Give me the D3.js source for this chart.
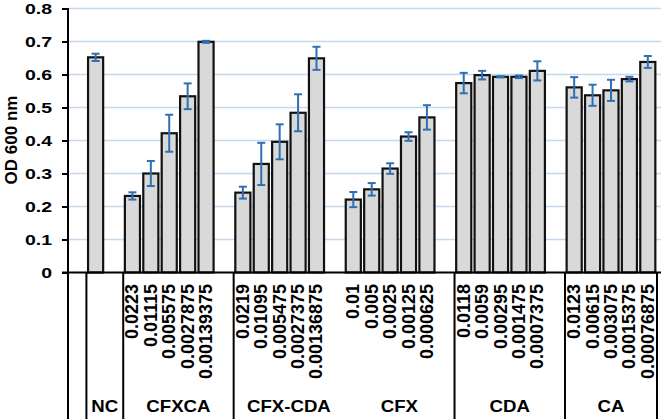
<!DOCTYPE html>
<html>
<head>
<meta charset="utf-8">
<script src="https://cdn.jsdelivr.net/npm/d3@7"></script>
<style>
body { margin: 0; background: #fff; }
text { font-family: "Liberation Sans", Arial, sans-serif; font-weight: bold; fill: #000; }
</style>
</head>
<body>
<div id="chart"></div>
<script>
// groups and their concentrations (tick labels)
var groups = ["NC", "CFXCA", "CFX-CDA", "CFX", "CDA", "CA"];
var concNC = [""];
var concCFXCA = ["0.0223", "0.01115", "0.005575", "0.0027875", "0.00139375"];
var concCFXCDA = ["0.0219", "0.01095", "0.005475", "0.0027375", "0.00136875"];
var concCFX = ["0.01", "0.005", "0.0025", "0.00125", "0.000625"];
var concCDA = ["0.0118", "0.0059", "0.00295", "0.001475", "0.0007375"];
var concCA = ["0.0123", "0.00615", "0.003075", "0.0015375", "0.00076875"];

// OD 600 means
var odNC = [0.652];
var odCFXCA = [0.232, 0.300, 0.422, 0.534, 0.699];
var odCFXCDA = [0.242, 0.329, 0.396, 0.484, 0.649];
var odCFX = [0.221, 0.252, 0.315, 0.412, 0.470];
var odCDA = [0.574, 0.598, 0.593, 0.593, 0.611];
var odCA = [0.561, 0.537, 0.552, 0.586, 0.638];

// error (+/-)
var errNC = [0.011];
var errCFXCA = [0.011, 0.038, 0.056, 0.039, 0.003];
var errCFXCDA = [0.018, 0.064, 0.053, 0.056, 0.035];
var errCFX = [0.023, 0.019, 0.016, 0.013, 0.037];
var errCDA = [0.031, 0.013, 0.002, 0.004, 0.029];
var errCA = [0.031, 0.032, 0.032, 0.007, 0.018];

var yTicks = [0, 0.1, 0.2, 0.3, 0.4, 0.5, 0.6, 0.7, 0.8];
// groups that get a divider line below the axis (CFX has none in the original)
var dividers = ["NC", "CFXCA", "CFX-CDA", "CDA", "CA"];

var conc = [concNC, concCFXCA, concCFXCDA, concCFX, concCDA, concCA];
var od = [odNC, odCFXCA, odCFXCDA, odCFX, odCDA, odCA];
var err = [errNC, errCFXCA, errCFXCDA, errCFX, errCDA, errCA];

var width = 661, height = 419;

// build bar list + slot domain (empty slot before NC and between groups)
var bars = [];
var slots = ["pad"];
groups.forEach(function(g, gi) {
  if (gi > 0) slots.push("gap" + gi);
  conc[gi].forEach(function(c, i) {
    var key = g + "|" + i;
    slots.push(key);
    bars.push({group: g, key: key, label: c, v: od[gi][i], e: err[gi][i]});
  });
});

var svg = d3.select("#chart").append("svg")
  .attr("width", width).attr("height", height);

var x = d3.scaleBand().domain(slots).range([68, 657])
  .paddingInner(0.18).paddingOuter(0.09);
var y = d3.scaleLinear().domain([0, 0.8]).range([272.5, 8.5]);
var step = x.step();
function slotStart(k) { return x(k) - step * 0.09; }

// gridlines
svg.selectAll("line.grid").data(yTicks.slice(1))
  .enter().append("line").attr("class", "grid")
  .attr("x1", 69).attr("x2", 661)
  .attr("y1", function(d) { return y(d); })
  .attr("y2", function(d) { return y(d); })
  .style("stroke", "#c4d8ee").style("stroke-width", 1.5);

// bars
svg.selectAll("rect.bar").data(bars)
  .enter().append("rect").attr("class", "bar")
  .attr("x", function(d) { return x(d.key); })
  .attr("width", x.bandwidth())
  .attr("y", function(d) { return y(d.v); })
  .attr("height", function(d) { return y(0) - y(d.v); })
  .style("fill", "#d9d9d9").style("stroke", "#111").style("stroke-width", 2.2);

// error bars
var eb = svg.selectAll("g.err").data(bars).enter().append("g").attr("class", "err")
  .attr("transform", function(d) { return "translate(" + (x(d.key) + x.bandwidth() / 2) + ",0)"; })
  .style("stroke", "#2f6fb3").style("stroke-width", 2);
eb.append("line").attr("x1", 0).attr("x2", 0)
  .attr("y1", function(d) { return y(d.v + d.e); })
  .attr("y2", function(d) { return y(d.v - d.e); });
eb.append("line").attr("x1", -4).attr("x2", 4)
  .attr("y1", function(d) { return y(d.v + d.e); })
  .attr("y2", function(d) { return y(d.v + d.e); });
eb.append("line").attr("x1", -4).attr("x2", 4)
  .attr("y1", function(d) { return y(d.v - d.e); })
  .attr("y2", function(d) { return y(d.v - d.e); });

// y axis
var yAxis = svg.append("g").attr("transform", "translate(68,0)")
  .call(d3.axisLeft(y).tickValues(yTicks).tickSize(6));
yAxis.select(".domain").remove();
yAxis.selectAll(".tick line").style("stroke", "#000").style("stroke-width", 2);
yAxis.selectAll(".tick text").remove();
yAxis.selectAll(".tick").append("text")
  .attr("transform", "translate(-16,5) scale(1.3,1)")
  .attr("text-anchor", "end")
  .style("font-size", "15px")
  .text(function(d) { return d === 0 ? "0" : d3.format(".1f")(d); });

// axis lines
svg.append("line").attr("x1", 68).attr("x2", 68).attr("y1", 8).attr("y2", 419)
  .style("stroke", "#000").style("stroke-width", 2);
svg.append("line").attr("x1", 62).attr("x2", 661).attr("y1", y(0)).attr("y2", y(0))
  .style("stroke", "#000").style("stroke-width", 2);

// dividers below the axis
var divX = dividers.map(function(g) { return slotStart(g + "|0"); });
divX.push(657);
svg.selectAll("line.div").data(divX)
  .enter().append("line").attr("class", "div")
  .attr("x1", function(d) { return d; }).attr("x2", function(d) { return d; })
  .attr("y1", y(0)).attr("y2", 419)
  .style("stroke", "#000").style("stroke-width", 2);

// concentration labels
svg.selectAll("text.conc").data(bars)
  .enter().append("text").attr("class", "conc")
  .attr("transform", function(d) {
    return "translate(" + (x(d.key) + x.bandwidth() / 2 + 6) + ",284) rotate(-90)";
  })
  .attr("text-anchor", "end")
  .style("font-size", "18px")
  .text(function(d) { return d.label; });

// group labels
var groupEdges = groups.map(function(g) { return slotStart(g + "|0"); });
groupEdges.push(657);
svg.selectAll("text.group").data(groups)
  .enter().append("text").attr("class", "group")
  .attr("transform", function(d, i) {
    return "translate(" + ((groupEdges[i] + groupEdges[i + 1]) / 2) + ",412) scale(1.13,1)";
  })
  .attr("text-anchor", "middle")
  .style("font-size", "16.5px")
  .text(function(d) { return d; });

// y title
svg.append("text")
  .attr("transform", "translate(16.5,140) rotate(-90)")
  .attr("text-anchor", "middle")
  .style("font-size", "17px")
  .text("OD 600 nm");
</script>
</body>
</html>
